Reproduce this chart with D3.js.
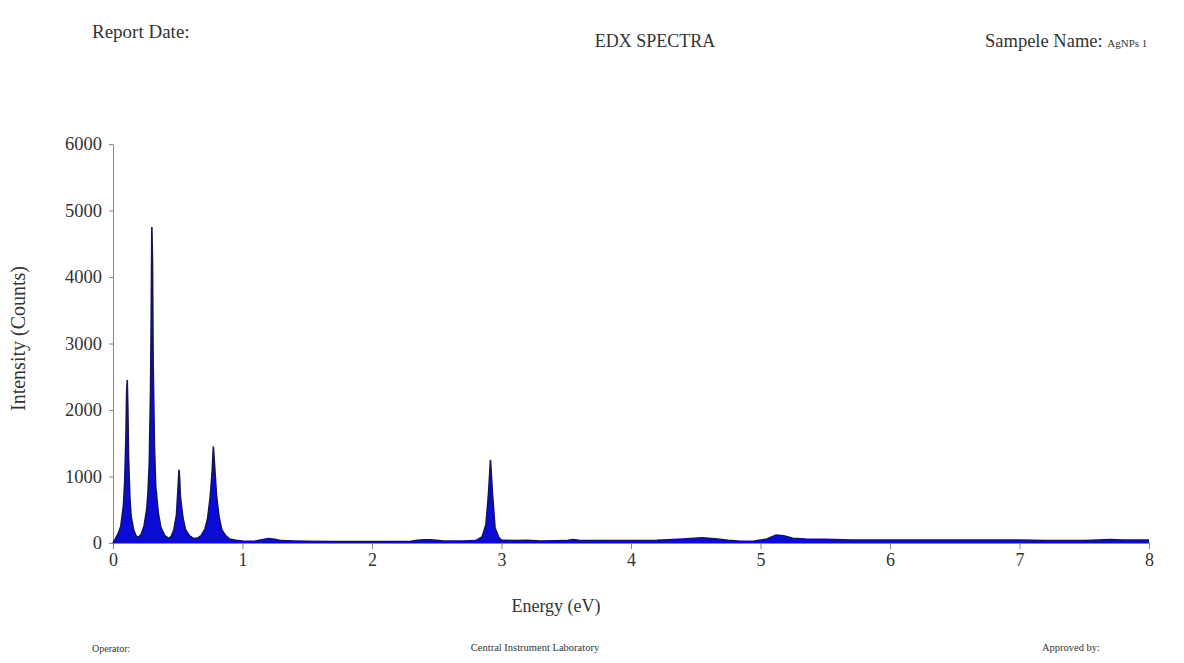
<!DOCTYPE html>
<html lang="en">
<head>
  <meta charset="UTF-8">
  <title>EDX SPECTRA</title>
  <script src="https://d3js.org/d3.v7.min.js"></script>
  <style>
    body { margin: 0; background: #fff; }
    svg text { font-family: "Liberation Serif", "DejaVu Serif", serif; fill: #333; }
    .axis path, .axis line { stroke: #888; }
  </style>
</head>
<body>
  <div id="chart"></div>

  <script>
    // Spectrum: energy (eV) and intensity (counts)
    const energy = [
      0.00, 0.02, 0.04, 0.06, 0.08, 0.09, 0.10, 0.105, 0.11, 0.115, 0.12, 0.13, 0.14, 0.16, 0.18,
      0.20, 0.22, 0.24, 0.26, 0.27, 0.28, 0.29, 0.295, 0.30, 0.305, 0.31, 0.32, 0.33, 0.35, 0.37,
      0.40, 0.43, 0.45, 0.47, 0.49, 0.50, 0.51, 0.515, 0.52, 0.54, 0.56, 0.59, 0.62, 0.65, 0.68,
      0.71, 0.73, 0.75, 0.765, 0.775, 0.785, 0.80, 0.82, 0.84, 0.87, 0.90, 0.95, 1.00, 1.05, 1.10,
      1.15, 1.20, 1.25, 1.30, 1.40, 1.50, 1.70, 2.00, 2.30, 2.35, 2.40, 2.45, 2.50, 2.55, 2.70,
      2.80, 2.85, 2.88, 2.90, 2.915, 2.93, 2.95, 2.98, 3.00, 3.10, 3.20, 3.30, 3.50, 3.55, 3.60,
      3.80, 4.00, 4.20, 4.40, 4.55, 4.65, 4.75, 4.85, 4.95, 5.05, 5.12, 5.18, 5.25, 5.35, 5.50,
      5.70, 6.00, 6.50, 7.00, 7.20, 7.50, 7.70, 7.80, 7.95, 8.00
    ];
    const counts = [
      0, 70, 140, 250, 550, 900, 1600, 2250, 2450, 2000, 1300, 700, 400, 190, 100,
      90, 140, 260, 500, 750, 1200, 2300, 3400, 4750, 4250, 2700, 1450, 850, 450, 230,
      110, 70, 100, 200, 420, 750, 1100, 950, 700, 380, 200, 110, 70, 70, 110,
      210, 360, 680, 1050, 1450, 1150, 700, 380, 200, 110, 60, 40, 30, 25, 30,
      50, 65, 55, 35, 28, 25, 20, 20, 25, 40, 50, 50, 40, 30, 28,
      35, 90, 280, 750, 1250, 750, 230, 80, 45, 35, 40, 30, 35, 50, 40,
      35, 35, 40, 60, 80, 65, 40, 25, 30, 60, 120, 110, 70, 60, 55,
      45, 45, 45, 45, 35, 35, 50, 45, 45, 45
    ];
    const xTicks = [0, 1, 2, 3, 4, 5, 6, 7, 8];
    const yTicks = [0, 1000, 2000, 3000, 4000, 5000, 6000];

    const data = energy.map((e, i) => ({ e, c: counts[i] }));

    const W = 1184, H = 663;
    const margin = { top: 144, right: 35, bottom: 120, left: 113 };
    const height = H - margin.top - margin.bottom;

    const svg = d3.select("#chart").append("svg")
      .attr("width", W)
      .attr("height", H);

    // Header / footer texts
    svg.append("text").attr("x", 92).attr("y", 38).style("font-size", "19px").text("Report Date:");
    svg.append("text").attr("x", 655).attr("y", 47).attr("text-anchor", "middle")
      .style("font-size", "18px").text("EDX SPECTRA");
    const sn = svg.append("text").attr("x", 985).attr("y", 47).style("font-size", "18.5px");
    sn.append("tspan").text("Sampele Name: ");
    sn.append("tspan").style("font-size", "11px").text("AgNPs 1");
    svg.append("text").attr("x", 92).attr("y", 652).style("font-size", "10px").text("Operator:");
    svg.append("text").attr("x", 535).attr("y", 651).attr("text-anchor", "middle")
      .style("font-size", "10.5px").text("Central Instrument Laboratory");
    svg.append("text").attr("x", 1042).attr("y", 651).style("font-size", "10.5px").text("Approved by:");

    const g = svg.append("g").attr("transform", `translate(${margin.left},${margin.top})`);

    const x = d3.scaleLinear().domain([0, 8]).range([0, 1036]);
    const y = d3.scaleLinear().domain([0, 6000]).range([height, 0]);

    // Axes
    g.append("g").attr("class", "axis")
      .attr("transform", `translate(0,${height})`)
      .call(d3.axisBottom(x).tickValues(xTicks).tickFormat(d3.format("d")).tickSize(6).tickPadding(4).tickSizeOuter(0))
      .call(a => a.selectAll("text").style("font-size", "18px").style("font-family", "Liberation Serif, serif").attr("fill", "#333"));

    g.append("g").attr("class", "axis")
      .call(d3.axisLeft(y).tickValues(yTicks).tickFormat(d3.format("d")).tickSize(4).tickPadding(7).tickSizeOuter(0))
      .call(a => a.selectAll("text").style("font-size", "18.5px").style("font-family", "Liberation Serif, serif").attr("fill", "#333"));

    // Spectrum
    const area = d3.area()
      .x(d => x(d.e))
      .y0(y(0))
      .y1(d => y(d.c));
    const line = d3.line()
      .x(d => x(d.e))
      .y(d => y(d.c));

    g.append("path").datum(data)
      .attr("d", area)
      .attr("fill", "#0b0bd8");
    g.append("path").datum(data)
      .attr("d", line)
      .attr("fill", "none")
      .attr("stroke", "#14145a")
      .attr("stroke-width", 1.6);

    // Axis titles
    svg.append("text")
      .attr("transform", `translate(25,${margin.top + height / 2 - 5}) rotate(-90)`)
      .attr("text-anchor", "middle")
      .style("font-size", "20px")
      .text("Intensity (Counts)");
    svg.append("text")
      .attr("x", 556).attr("y", 612)
      .attr("text-anchor", "middle")
      .style("font-size", "18px")
      .text("Energy (eV)");
  </script>
</body>
</html>
